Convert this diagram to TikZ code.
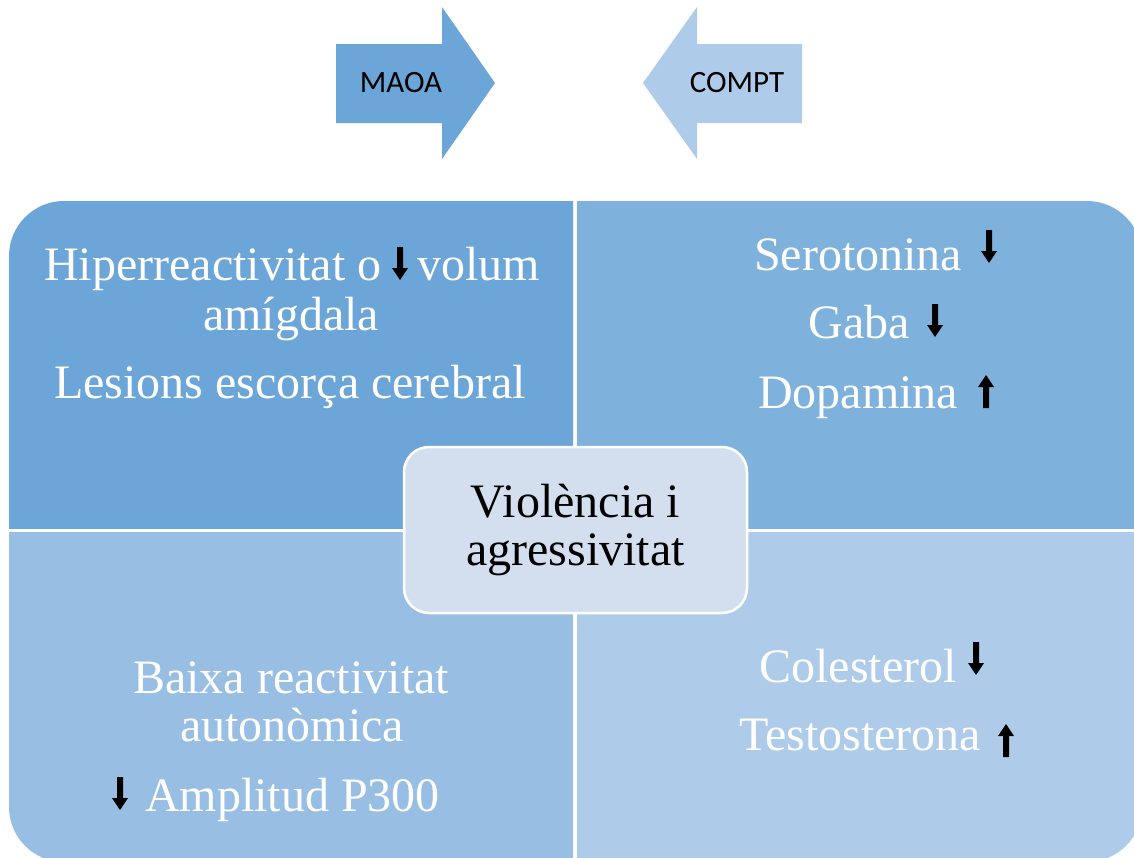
\documentclass[tikz,border=0pt]{standalone}
\usepackage{fontspec}
\setmainfont{Liberation Serif}
\newfontfamily\calib{Carlito}
\definecolor{qtl}{RGB}{108,165,216}
\definecolor{qtr}{RGB}{127,177,221}
\definecolor{qbl}{RGB}{152,190,227}
\definecolor{qbr}{RGB}{174,204,234}
\definecolor{cbox}{RGB}{211,222,239}
\tikzset{
  big/.style={font=\fontsize{48}{48}\selectfont, inner sep=0pt, text=white},
  lbl/.style={font=\calib\fontsize{31}{31}\selectfont, inner sep=0pt, text=black},
  darr/.pic={\fill[black] (-3,0) -- (3,0) -- (3,21) -- (8,21) -- (0,33) -- (-8,21) -- (-3,21) -- cycle;},
  uarr/.pic={\fill[black] (-3,33) -- (3,33) -- (3,12) -- (8,12) -- (0,0) -- (-8,12) -- (-3,12) -- cycle;},
}
\begin{document}
\begin{tikzpicture}[x=1pt,y=-1pt]
\useasboundingbox (0,0) rectangle (1134,857);
\clip (0,0) rectangle (1134,857);
% top arrows
\fill[qtl] (336,44) -- (442,44) -- (442,7) -- (495,83) -- (442,159) -- (442,123) -- (336,123) -- cycle;
\node[lbl] (maoa) at (401,83) {MAOA};
\fill[qbr] (802,44) -- (697,44) -- (697,7) -- (643,83) -- (697,159) -- (697,123) -- (802,123) -- cycle;
\node[lbl] (compt) at (737,83) {COMPT};
% quadrants
\begin{scope}\clip (0,0) rectangle (573,528);
\fill[qtl, rounded corners=55] (9,201) rectangle (1142,862);\end{scope}
\begin{scope}\clip (577,0) rectangle (1134,528);
\fill[qtr, rounded corners=55] (9,201) rectangle (1142,862);\end{scope}
\begin{scope}\clip (0,532) rectangle (573,857);
\fill[qbl, rounded corners=55] (9,201) rectangle (1142,862);\end{scope}
\begin{scope}\clip (577,532) rectangle (1134,857);
\fill[qbr, rounded corners=55] (9,201) rectangle (1142,862);\end{scope}
% top-left texts
\node[big, anchor=base west] (h1) at (44,280) {Hiperreactivitat o};
\pic at (400,247) {darr};
\node[big, anchor=base west] (h2) at (417,280) {volum};
\node[big, anchor=base] (h3) at (291,330) {amígdala};
\node[big, anchor=base] (h4) at (290,398) {Lesions escorça cerebral};
% top-right texts
\node[big, anchor=base] (s1) at (858,270) {Serotonina};
\pic at (989,230) {darr};
\node[big, anchor=base] (s2) at (859,338) {Gaba};
\pic at (935,304) {darr};
\node[big, anchor=base] (s3) at (858,408) {Dopamina};
\pic at (986,375) {uarr};
% bottom-left texts
\node[big, anchor=base] (b1) at (291,693) {Baixa reactivitat};
\node[big, anchor=base] (b2) at (292,741) {autonòmica};
\pic at (120,777) {darr};
\node[big, anchor=base west] (b3) at (145,811) {Amplitud P300};
% bottom-right texts
\node[big, anchor=base] (c1) at (858,682) {Colesterol};
\pic at (976,642) {darr};
\node[big, anchor=base] (c2) at (860,750) {Testosterona};
\pic at (1006,724) {uarr};
% centre box
\node[draw=white, line width=2.5pt, fill=cbox, rounded corners=25,
      minimum width=343pt, minimum height=166pt, align=center, inner sep=0pt,
      font=\fontsize{48}{48}\selectfont, text=black] (centre) at (575.5,530)
      {Violència i\\agressivitat};
\end{tikzpicture}
\end{document}
